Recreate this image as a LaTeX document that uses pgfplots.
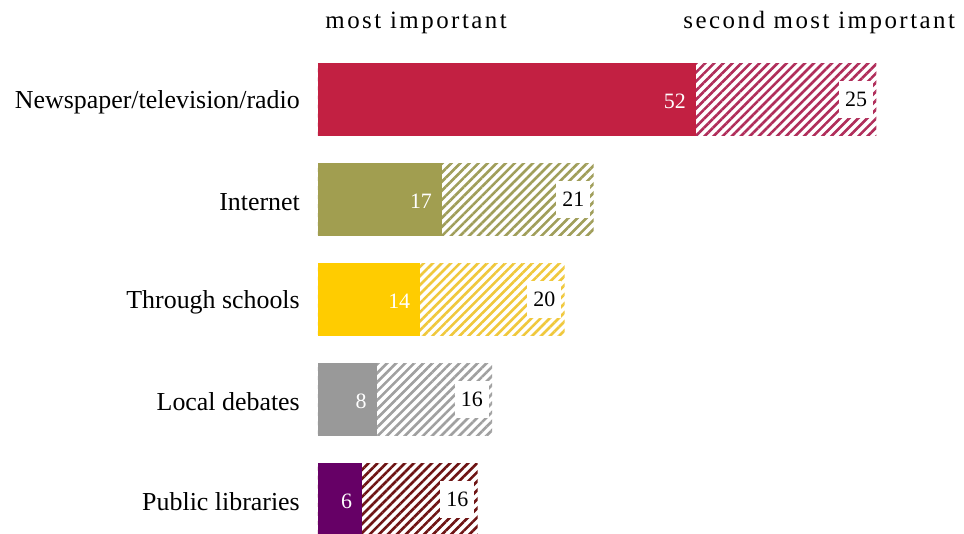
\documentclass[border=0pt]{standalone}
\usepackage{fontspec}
\setmainfont{Liberation Serif}
\newfontfamily\spaced[LetterSpace=10]{Liberation Serif}
\usepackage{pgfplots}
\pgfplotsset{compat=1.18}
\usepackage{pgfplotstable}
\usetikzlibrary{patterns.meta}

\definecolor{cA}{HTML}{C22042}
\definecolor{cB}{HTML}{A19E50}
\definecolor{cC}{HTML}{FFCC00}
\definecolor{cD}{HTML}{999999}
\definecolor{cE}{HTML}{660066}
\definecolor{hA}{HTML}{B02D5A}
\definecolor{hB}{HTML}{A09E5A}
\definecolor{hC}{HTML}{F0C83C}
\definecolor{hD}{HTML}{A0A0A0}
\definecolor{hE}{HTML}{6E1414}

\pgfplotstableread{
idx first second
0 52 25
1 17 21
2 14 20
3 8 16
4 6 16
}\datatable

\pgfplotsset{
  solidbar/.style={fill=#1, draw=#1, line width=0.6bp,
    every node near coord/.append style={text=white, anchor=east, xshift=-9bp, yshift=-2bp, inner sep=0pt,
      font=\fontsize{22}{26}\selectfont}},
  hatchbar/.style={fill=white, draw=none,
    postaction={pattern={Lines[angle=45,distance=6.4bp,line width=2.6bp]}, pattern color=#1},
    every node near coord/.append style={fill=white, text=black, anchor=east, xshift=-3bp,
      inner xsep=6bp, inner ysep=0pt, minimum height=37bp, font=\fontsize{22}{26}\selectfont}},
  onerow/.style={restrict expr to domain={\coordindex}{#1:#1}},
}

\begin{document}
\begin{tikzpicture}
\begin{axis}[
  x=7.25bp, y=100bp, y dir=reverse,
  xmin=0, xmax=89.1, ymin=-0.99, ymax=4.34,
  axis line style={draw=none}, major tick length=0pt,
  xtick=\empty, ytick={0,1,2,3,4},
  yticklabels={Newspaper/television/radio, Internet, Through schools, Local debates, Public libraries},
  yticklabel style={font=\fontsize{26}{30}\selectfont, inner sep=0pt, xshift=-18bp, yshift=-3bp},
  xbar, bar width=72bp, bar shift=0pt,
  clip=false,
  /pgf/number format/assume math mode=true,
  point meta=explicit,
  nodes near coords,
]
% row 0
\addplot[hatchbar=hA, onerow=0] table[x expr=\thisrow{first}+\thisrow{second}, y=idx, meta=second] {\datatable};
\addplot[solidbar=cA, onerow=0] table[x=first, y=idx, meta=first] {\datatable};
% row 1
\addplot[hatchbar=hB, onerow=1] table[x expr=\thisrow{first}+\thisrow{second}, y=idx, meta=second] {\datatable};
\addplot[solidbar=cB, onerow=1] table[x=first, y=idx, meta=first] {\datatable};
% row 2
\addplot[hatchbar=hC, onerow=2] table[x expr=\thisrow{first}+\thisrow{second}, y=idx, meta=second] {\datatable};
\addplot[solidbar=cC, onerow=2] table[x=first, y=idx, meta=first] {\datatable};
% row 3
\addplot[hatchbar=hD, onerow=3] table[x expr=\thisrow{first}+\thisrow{second}, y=idx, meta=second] {\datatable};
\addplot[solidbar=cD, onerow=3] table[x=first, y=idx, meta=first] {\datatable};
% row 4
\addplot[hatchbar=hE, onerow=4] table[x expr=\thisrow{first}+\thisrow{second}, y=idx, meta=second] {\datatable};
\addplot[solidbar=cE, onerow=4] table[x=first, y=idx, meta=first] {\datatable};

\node[anchor=base west, font=\spaced\fontsize{25}{30}\selectfont, inner sep=0pt] at (axis cs:1,-0.70) {most important};
\node[anchor=base east, font=\spaced\fontsize{25}{30}\selectfont, inner sep=0pt] at (axis cs:87.9,-0.70) {second most important};

\coordinate (bl) at (axis cs:-43.86,4.34);
\coordinate (tr) at (axis cs:89.1,-0.99);
\end{axis}
\pgfresetboundingbox
\path[use as bounding box] (bl) rectangle (tr);
\end{tikzpicture}
\end{document}
